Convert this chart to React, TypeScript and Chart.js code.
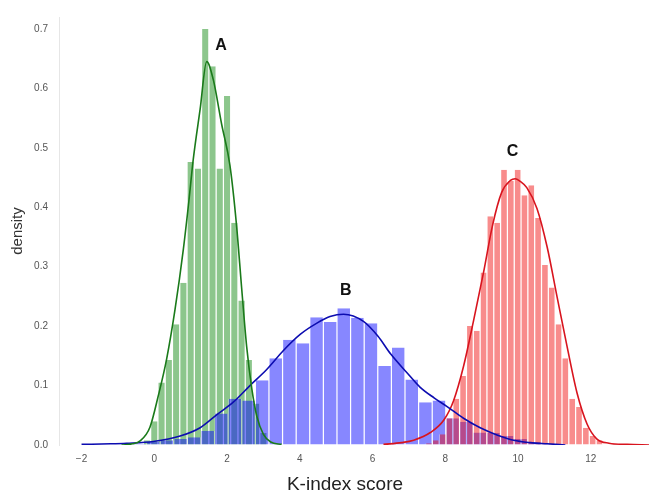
import { useEffect, useRef } from 'react';
import { Chart, registerables } from 'chart.js';

Chart.register(...registerables);

// ---- Histogram A (green) : bin centers and densities
const aBinCenters = [-0.2, 0.0, 0.2, 0.4, 0.6, 0.8, 1.0, 1.2, 1.4, 1.6, 1.8, 2.0, 2.2, 2.4, 2.6, 2.8, 3.0];
const aDensity = [0.008, 0.04, 0.105, 0.143, 0.203, 0.273, 0.476, 0.465, 0.70, 0.637, 0.465, 0.587, 0.374, 0.243, 0.143, 0.07, 0.02];

// ---- Histogram B (blue)
const bBinCenters = [-0.401, -0.027, 0.347, 0.721, 1.095, 1.469, 1.843, 2.217, 2.591, 2.965, 3.339, 3.713, 4.087, 4.461, 4.835, 5.209, 5.583, 5.957, 6.331, 6.705, 7.079, 7.453, 7.827, 8.201, 8.575, 8.949, 9.323, 9.697, 10.071, 10.445, 10.819];
const bDensity = [0.002, 0.005, 0.008, 0.01, 0.013, 0.024, 0.053, 0.078, 0.075, 0.109, 0.146, 0.177, 0.171, 0.215, 0.207, 0.23, 0.214, 0.205, 0.133, 0.164, 0.110, 0.072, 0.075, 0.045, 0.039, 0.021, 0.02, 0.015, 0.01, 0.005, 0.002];

// ---- Histogram C (red)
const cBinCenters = [7.551, 7.739, 7.926, 8.114, 8.301, 8.489, 8.676, 8.864, 9.051, 9.239, 9.426, 9.614, 9.801, 9.989, 10.176, 10.364, 10.551, 10.739, 10.926, 11.114, 11.301, 11.489, 11.676, 11.864, 12.051, 12.239];
const cDensity = [0.003, 0.008, 0.018, 0.045, 0.078, 0.116, 0.2, 0.192, 0.29, 0.385, 0.374, 0.463, 0.444, 0.463, 0.42, 0.437, 0.382, 0.303, 0.265, 0.203, 0.146, 0.078, 0.064, 0.029, 0.015, 0.008];

// ---- KDE curves
const aKdeX = [-0.9, -0.6, -0.39, -0.12, 0.11, 0.34, 0.57, 0.8, 0.95, 1.07, 1.26, 1.44, 1.62, 1.85, 2.08, 2.26, 2.4, 2.54, 2.68, 2.82, 3.0, 3.2, 3.5];
const aKdeY = [0.0, 0.002, 0.007, 0.03, 0.083, 0.145, 0.228, 0.33, 0.41, 0.48, 0.565, 0.645, 0.615, 0.54, 0.47, 0.37, 0.265, 0.165, 0.095, 0.048, 0.018, 0.005, 0.001];

const bKdeX = [-2.0, -1.2, -0.76, -0.03, 0.71, 1.26, 1.72, 2.17, 2.63, 3.09, 3.55, 4.01, 4.47, 4.83, 5.2, 5.75, 6.15, 6.5, 6.94, 7.31, 7.7, 8.04, 8.5, 8.96, 9.42, 9.88, 10.34, 10.8, 11.3];
const bKdeY = [0.001, 0.002, 0.003, 0.006, 0.015, 0.029, 0.051, 0.072, 0.1, 0.127, 0.159, 0.186, 0.205, 0.216, 0.22, 0.208, 0.183, 0.153, 0.122, 0.097, 0.079, 0.065, 0.045, 0.029, 0.017, 0.008, 0.004, 0.002, 0.0];

const cKdeX = [6.3, 6.8, 7.13, 7.59, 7.96, 8.23, 8.5, 8.78, 9.05, 9.3, 9.55, 9.79, 9.92, 10.05, 10.24, 10.52, 10.8, 11.07, 11.35, 11.62, 11.9, 12.17, 12.5, 13.0, 13.6];
const cKdeY = [0.001, 0.004, 0.008, 0.021, 0.042, 0.075, 0.132, 0.21, 0.29, 0.37, 0.425, 0.445, 0.448, 0.444, 0.433, 0.398, 0.333, 0.25, 0.165, 0.088, 0.035, 0.01, 0.003, 0.001, 0.0];

// ---- Annotations
const peakLabels = ['A', 'B', 'C'];
const peakLabelX = [1.834, 5.265, 9.85];
const peakLabelY = [0.664, 0.2525, 0.486];

const xTitle = 'K-index score';
const yTitle = 'density';

const X_MIN = -2.62;
const X_MAX = 13.6;

const toPts = (xs: number[], ys: number[]) => xs.map((x, i) => ({ x, y: ys[i] }));

const FONT = '"Liberation Sans", Arial, Helvetica, sans-serif';

const textPlugin = {
  id: 'textPlugin',
  afterDraw(chart: any) {
    const { ctx, scales } = chart;
    const x = scales.x;
    const y = scales.y;
    ctx.save();
    ctx.fillStyle = '#111';
    ctx.font = `bold 16px ${FONT}`;
    ctx.textAlign = 'center';
    ctx.textBaseline = 'alphabetic';
    peakLabels.forEach((t, i) => {
      ctx.fillText(t, x.getPixelForValue(peakLabelX[i]), y.getPixelForValue(peakLabelY[i]));
    });
    ctx.fillStyle = '#222';
    ctx.font = `19px ${FONT}`;
    ctx.fillText(xTitle, 345, 490);
    ctx.translate(22, 231);
    ctx.rotate(-Math.PI / 2);
    ctx.font = `15px ${FONT}`;
    ctx.fillStyle = '#333';
    ctx.fillText(yTitle, 0, 0);
    ctx.restore();
  },
};

export default function App() {
  const ref = useRef<HTMLCanvasElement>(null);

  useEffect(() => {
    if (!ref.current) return;
    const hiddenX = {
      type: 'linear' as const,
      display: false,
      min: X_MIN,
      max: X_MAX,
      offset: false,
      ticks: { stepSize: 2, includeBounds: false },
    };
    const barCommon = {
      type: 'bar' as const,
      yAxisID: 'y',
      barPercentage: 1,
      categoryPercentage: 1,
      grouped: false,
      inflateAmount: 0,
      borderColor: 'rgba(255,255,255,0.75)',
      borderWidth: { left: 0.6, right: 0.6, top: 0, bottom: 0 },
      borderSkipped: false,
    };
    const lineCommon = {
      type: 'line' as const,
      xAxisID: 'x',
      yAxisID: 'y',
      pointRadius: 0,
      borderWidth: 1.6,
      fill: false,
      cubicInterpolationMode: 'monotone' as const,
      order: 0,
    };
    const chart = new Chart(ref.current, {
      type: 'line',
      data: {
        datasets: [
          { ...barCommon, label: 'A', xAxisID: 'xA', order: 3, backgroundColor: 'rgba(0,128,0,0.45)', data: toPts(aBinCenters, aDensity) } as any,
          { ...barCommon, label: 'B', xAxisID: 'xB', order: 2, backgroundColor: 'rgba(0,0,255,0.47)', data: toPts(bBinCenters, bDensity) } as any,
          { ...barCommon, label: 'C', xAxisID: 'xC', order: 1, backgroundColor: 'rgba(240,0,0,0.45)', data: toPts(cBinCenters, cDensity) } as any,
          { ...lineCommon, label: 'A kde', borderColor: '#1a7a1a', data: toPts(aKdeX, aKdeY) } as any,
          { ...lineCommon, label: 'B kde', borderColor: '#0c0cb0', data: toPts(bKdeX, bKdeY) } as any,
          { ...lineCommon, label: 'C kde', borderColor: '#d8141e', data: toPts(cKdeX, cKdeY) } as any,
        ],
      },
      options: {
        responsive: true,
        maintainAspectRatio: false,
        animation: false,
        devicePixelRatio: 1,
        layout: { padding: { top: 3, right: 7, left: 0, bottom: 0 } },
        plugins: { legend: { display: false }, tooltip: { enabled: false } },
        scales: {
          x: {
            type: 'linear',
            min: X_MIN,
            max: X_MAX,
            offset: false,
            z: 1,
            border: { display: false },
            grid: { color: 'rgba(255,255,255,0.3)', drawTicks: false },
            ticks: {
              stepSize: 2,
              includeBounds: false,
              padding: 8,
              color: '#555',
              font: { family: FONT, size: 10 },
              callback: (v: any) => (v < 0 ? '\u2212' + Math.abs(v) : String(v)),
            },
            afterFit: (s: any) => { s.height = 50; },
          },
          xA: hiddenX,
          xB: hiddenX,
          xC: hiddenX,
          y: {
            type: 'linear',
            min: 0,
            max: 0.72,
            z: 1,
            border: { display: true, color: '#e6e6e6' },
            grid: { color: 'rgba(255,255,255,0.3)', drawTicks: false },
            ticks: {
              stepSize: 0.1,
              includeBounds: false,
              padding: 11,
              color: '#555',
              font: { family: FONT, size: 10 },
              callback: (v: any) => Number(v).toFixed(1),
            },
            afterFit: (s: any) => { s.width = 59; },
          },
        },
      } as any,
      plugins: [textPlugin],
    });
    return () => chart.destroy();
  }, []);

  return (
    <div style={{ position: 'absolute', left: 0, top: 0, width: 656, height: 495, background: '#fff' }}>
      <canvas ref={ref} />
    </div>
  );
}
